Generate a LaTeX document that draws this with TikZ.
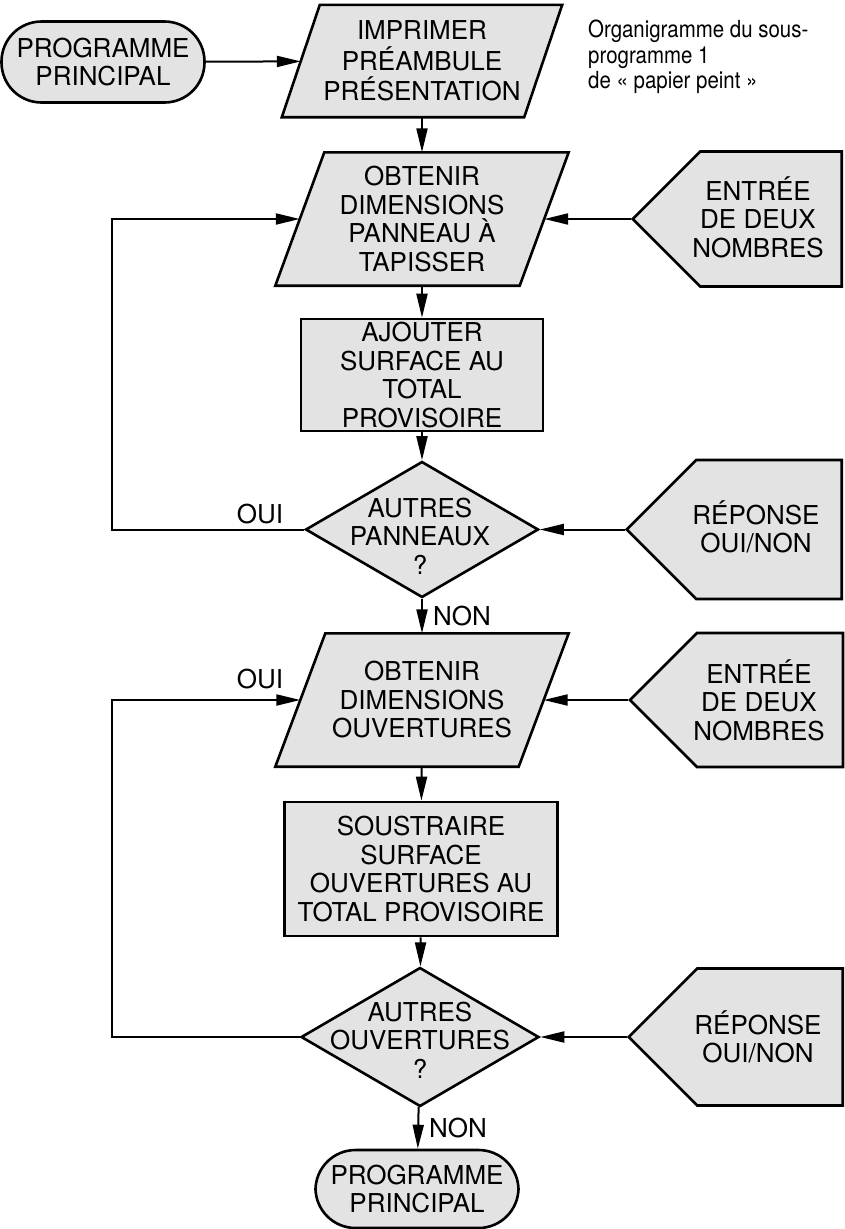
\documentclass[tikz,border=0pt]{standalone}
\usepackage{fontspec}
\setmainfont{TeX Gyre Heros}
\newfontfamily\notefont[FakeStretch=0.87]{TeX Gyre Heros}
\usetikzlibrary{shapes.geometric,shapes.symbols,arrows.meta,backgrounds}

\definecolor{fondgris}{rgb}{0.89,0.89,0.89}

\tikzset{
  contour/.style={draw, line width=2.6pt, fill=fondgris},
  terminal/.style={contour, rectangle, rounded corners=40pt, minimum width=203pt, minimum height=81pt},
  saisie/.style={rectangle, minimum height=133pt, minimum width=244pt},
  traitement/.style={contour, rectangle},
  test/.style={contour, diamond, minimum width=236pt, minimum height=138pt},
  entree/.style={contour, signal, signal to=west, signal from=nowhere, signal pointer angle=90,
    minimum width=212pt, minimum height=136pt},
  fleche/.style={line width=2pt, -{Triangle[length=24pt,width=11pt]}},
  ligne/.style={line width=2pt}
}

% cadre oblique (entree/sortie) autour d'un noeud saisie
\newcommand{\oblique}[2]{%
  \draw[contour] ([xshift=#2]#1.north west) -- ([xshift=#2]#1.north east)
    -- ([xshift=-#2]#1.south east) -- ([xshift=-#2]#1.south west) -- cycle;}

\begin{document}
\begin{tikzpicture}[x=1pt,y=-1pt,
  every node/.style={font=\fontsize{26}{28.5}\selectfont, align=center, inner sep=0pt}]
\useasboundingbox (0,0) rectangle (844,1229);

% colonne principale
\node[terminal] (debut) at (103,62) {PROGRAMME\\PRINCIPAL};
\node[saisie, minimum width=242pt, minimum height=112pt, font=\fontsize{26}{30.5}\selectfont] (imprimer) at (422,61) {IMPRIMER\\PRÉAMBULE\\PRÉSENTATION};
\node[saisie] (panneau) at (422,219) {OBTENIR\\DIMENSIONS\\PANNEAU À\\TAPISSER};
\node[traitement, minimum width=242pt, minimum height=112pt] (ajouter) at (422,375) {AJOUTER\\SURFACE AU\\TOTAL\\PROVISOIRE};
\node[test, minimum width=233pt, minimum height=136pt] (autres1) at (422,529.5) {};
\node (autres1-t) at (420,536) {AUTRES\\PANNEAUX\\?};
\node[saisie, minimum width=243pt] (ouvertures) at (422,700) {OBTENIR\\DIMENSIONS\\OUVERTURES};
\node[traitement, minimum width=273pt, minimum height=134pt] (soustraire) at (421,869) {SOUSTRAIRE\\SURFACE\\OUVERTURES AU\\TOTAL PROVISOIRE};
\node[test, minimum width=238pt, minimum height=139pt] (autres2) at (420,1037) {};
\node (autres2-t) at (420,1040) {AUTRES\\OUVERTURES\\?};
\node[terminal, minimum height=78pt] (fin) at (417,1189) {PROGRAMME\\PRINCIPAL};

\begin{scope}[on background layer]
\oblique{imprimer}{19pt}
\oblique{panneau}{24.5pt}
\oblique{ouvertures}{25pt}
\end{scope}

% entrees clavier
\node[entree, minimum width=209pt, minimum height=135pt] (nombres1) at (771,219) {};
\node (nombres1-t) at (758,217) {ENTRÉE\\DE DEUX\\NOMBRES};
\node[entree, minimum width=215pt, minimum height=139pt] (reponse1) at (769,529.5) {};
\node (reponse1-t) at (756,527) {RÉPONSE\\OUI/NON};
\node[entree, minimum width=213pt, minimum height=134pt] (nombres2) at (770,700) {};
\node (nombres2-t) at (759,700) {ENTRÉE\\DE DEUX\\NOMBRES};
\node[entree, minimum width=214pt, minimum height=137pt] (reponse2) at (770,1037) {};
\node (reponse2-t) at (758,1037) {RÉPONSE\\OUI/NON};

% titre
\node[anchor=north west, align=left, font=\notefont\fontsize{23.5}{25.5}\selectfont] (titre) at (588,20)
  {Organigramme du sous-\\programme 1\\de « papier peint »};

\coordinate (retour1) at (112,529.5);
\coordinate (retour2) at (112,1037);

\draw[fleche] (debut) -- (imprimer);
\draw[fleche] (imprimer) -- (panneau);
\draw[fleche] (panneau) -- (ajouter);
\draw[fleche] (ajouter) -- (autres1);
\draw[fleche] (autres1) -- node[right=10pt] {NON} (ouvertures);
\draw[fleche] (ouvertures) -- (soustraire);
\draw[fleche] (soustraire) -- (autres2);
\draw[fleche] (autres2) -- node[right=10pt] {NON} (fin);

% boucles OUI
\draw[fleche] (autres1.west) -- (retour1) |- (panneau);
\node (oui1) at (260,514) {OUI};
\draw[fleche] (autres2.west) -- (retour2) |- (ouvertures);
\node (oui2) at (260,679) {OUI};

\draw[fleche] (nombres1) -- (panneau);
\draw[fleche] (reponse1) -- (autres1);
\draw[fleche] (nombres2) -- (ouvertures);
\draw[fleche] (reponse2) -- (autres2);
\end{tikzpicture}
\end{document}
